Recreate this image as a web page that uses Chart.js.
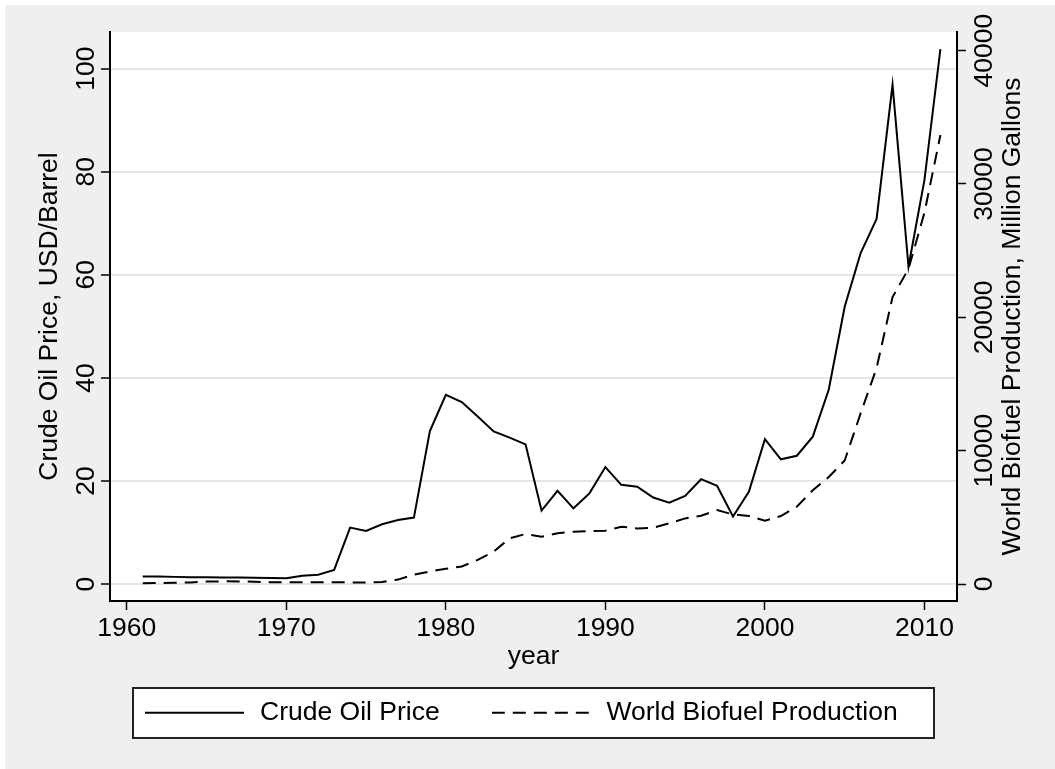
<!DOCTYPE html>
<html>
<head>
<meta charset="utf-8">
<script src="https://cdn.jsdelivr.net/npm/chart.js@4.4.0/dist/chart.umd.min.js"></script>
<style>
html, body { margin: 0; padding: 0; background: #fff; }
</style>
</head>
<body>
<canvas id="chart" width="1055" height="769"></canvas>
<script>
const years = [1961,1962,1963,1964,1965,1966,1967,1968,1969,1970,
               1971,1972,1973,1974,1975,1976,1977,1978,1979,1980,
               1981,1982,1983,1984,1985,1986,1987,1988,1989,1990,
               1991,1992,1993,1994,1995,1996,1997,1998,1999,2000,
               2001,2002,2003,2004,2005,2006,2007,2008,2009,2010,2011];

// USD per barrel
const oilPrice = [1.45,1.45,1.4,1.35,1.35,1.3,1.3,1.25,1.2,1.15,
                  1.6,1.8,2.75,10.95,10.3,11.6,12.45,12.9,29.7,36.7,
                  35.3,32.5,29.6,28.4,27.1,14.25,18.1,14.7,17.6,22.7,
                  19.25,18.9,16.8,15.8,17.1,20.35,19.05,13.1,17.95,28.1,
                  24.2,24.9,28.6,37.7,53.8,64.2,70.85,96.85,61.6,78.4,103.8];

// million gallons
const biofuel = [60,70,90,120,180,200,190,170,140,130,
                 130,140,130,120,110,150,330,700,940,1140,
                 1310,1810,2430,3430,3750,3550,3800,3920,3970,4000,
                 4300,4170,4220,4550,4920,5120,5540,5220,5100,4740,
                 5100,5790,7030,8020,9260,12800,16200,21520,23640,27850,33670];

const yearTicks = [1960,1970,1980,1990,2000,2010];
const priceTicks = [0,20,40,60,80,100];
const biofuelTicks = [0,10000,20000,30000,40000];

Chart.defaults.font.family = '"Liberation Sans", Arial, sans-serif';
Chart.defaults.color = '#000';

const FONT = 26.5;
const DASH = [13, 8];

// little line samples for the legend (the point legend ignores borderDash)
function lineSample(dash) {
    const c = document.createElement('canvas');
    c.width = 99;
    c.height = 4;
    const g = c.getContext('2d');
    g.strokeStyle = '#000';
    g.lineWidth = 2;
    g.setLineDash(dash);
    g.beginPath();
    g.moveTo(0, 2);
    g.lineTo(99, 2);
    g.stroke();
    return c;
}

const backdrop = {
    id: 'backdrop',
    beforeDraw(chart) {
        const ctx = chart.ctx;
        const a = chart.chartArea;
        ctx.save();
        ctx.fillStyle = '#fff';
        ctx.fillRect(0, 0, chart.width, chart.height);
        ctx.fillStyle = '#efefef';
        ctx.fillRect(5, 5, chart.width - 5, chart.height - 5);
        ctx.fillStyle = '#fff';
        ctx.fillRect(a.left, a.top, a.right - a.left, a.bottom - a.top);

        // frame around the legend
        const lg = chart.legend;
        const pad = lg.options.labels.padding;
        const contentW = lg.lineWidths[0] - pad;
        const xStart = (lg.left + pad + lg.right - lg.lineWidths[0]) / 2;
        const cy = lg.top + pad + FONT / 2;
        const bx = Math.round(xStart - 9.5), bw = Math.round(contentW + 9.5 + 37);
        const by = Math.round(cy - 25), bh = 50;
        ctx.fillStyle = '#fff';
        ctx.fillRect(bx, by, bw, bh);
        ctx.strokeStyle = '#222';
        ctx.lineWidth = 2;
        ctx.strokeRect(bx, by, bw, bh);
        ctx.restore();
    },
    afterDraw(chart) {
        // right axis title reads bottom to top, like the left one
        const s = chart.scales.y2;
        const ctx = chart.ctx;
        ctx.save();
        ctx.translate(s.left + 56, (s.top + s.bottom) / 2);
        ctx.rotate(-Math.PI / 2);
        ctx.font = FONT + 'px "Liberation Sans", Arial, sans-serif';
        ctx.fillStyle = '#000';
        ctx.textAlign = 'center';
        ctx.textBaseline = 'middle';
        ctx.fillText('World Biofuel Production, Million Gallons', 0, 0);
        ctx.restore();
    }
};

new Chart(document.getElementById('chart'), {
    type: 'line',
    data: {
        datasets: [
            {
                label: 'Crude Oil Price',
                data: years.map((y, i) => ({ x: y, y: oilPrice[i] })),
                yAxisID: 'y',
                borderColor: '#000',
                backgroundColor: 'transparent',
                borderWidth: 2,
                pointRadius: 0,
                pointStyle: lineSample([]),
                tension: 0
            },
            {
                label: 'World Biofuel Production',
                data: years.map((y, i) => ({ x: y, y: biofuel[i] })),
                yAxisID: 'y2',
                borderColor: '#000',
                backgroundColor: 'transparent',
                borderWidth: 2,
                borderDash: DASH,
                pointRadius: 0,
                pointStyle: lineSample(DASH),
                tension: 0
            }
        ]
    },
    options: {
        responsive: false,
        animation: false,
        devicePixelRatio: 1,
        layout: { padding: { left: 4, right: 18.5, top: 32, bottom: 33 } },
        plugins: {
            legend: {
                position: 'bottom',
                labels: {
                    usePointStyle: true,
                    pointStyleWidth: 104,
                    padding: 49.5,
                    color: '#000',
                    font: { size: FONT }
                }
            },
            tooltip: { enabled: false }
        },
        scales: {
            x: {
                type: 'linear',
                min: 1958.95,
                max: 2012.04,
                afterBuildTicks: s => { s.ticks = yearTicks.map(v => ({ value: v })); },
                afterFit: s => { s.height = 49; },
                grid: { drawOnChartArea: false, tickLength: 9, tickColor: '#000', tickWidth: 1.5 },
                border: { color: '#000', width: 2 },
                ticks: { padding: 2.6, font: { size: FONT }, color: '#000', callback: v => String(v), maxRotation: 0 },
                title: { display: true, text: 'year', font: { size: FONT }, color: '#000', padding: { top: 0, bottom: -22.3 } }
            },
            y: {
                position: 'left',
                min: -3.28,
                max: 107.1,
                afterBuildTicks: s => { s.ticks = priceTicks.map(v => ({ value: v })); },
                afterFit: s => { s.width = 106; },
                grid: { color: '#e5e5e5', lineWidth: 2, tickLength: 9, tickColor: '#000', tickWidth: 1.5 },
                border: { color: '#000', width: 2 },
                ticks: { minRotation: 90, maxRotation: 90, crossAlign: 'center', padding: -7.4,
                         font: { size: FONT }, color: '#000', callback: v => String(v) },
                title: { display: true, text: 'Crude Oil Price, USD/Barrel', font: { size: FONT }, color: '#000',
                         padding: { top: 29.4, bottom: 0 } }
            },
            y2: {
                position: 'right',
                min: -1275,
                max: 41400,
                afterBuildTicks: s => { s.ticks = biofuelTicks.map(v => ({ value: v })); },
                afterFit: s => { s.width = 79.5; },
                grid: { drawOnChartArea: false, tickLength: 9, tickColor: '#000', tickWidth: 1.5 },
                border: { color: '#000', width: 2 },
                ticks: { minRotation: 90, maxRotation: 90, crossAlign: 'center', padding: -18.5,
                         font: { size: FONT }, color: '#000', callback: v => String(v) }
            }
        }
    },
    plugins: [backdrop]
});
</script>
</body>
</html>
